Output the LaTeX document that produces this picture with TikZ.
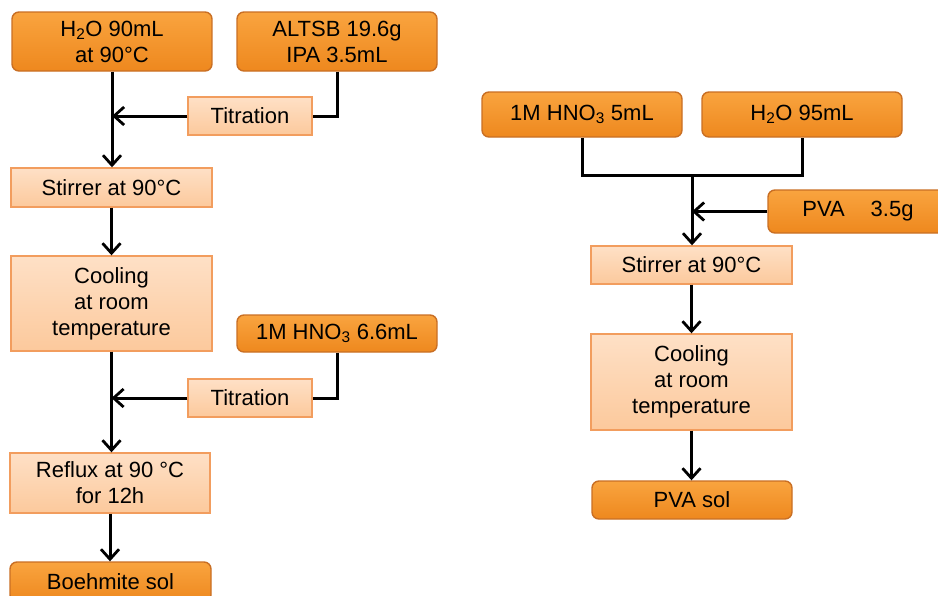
\documentclass[tikz,border=0pt]{standalone}
\usepackage{fontspec}
\setmainfont{Liberation Sans}
\usepackage{tikz}
\usetikzlibrary{positioning, arrows.meta, calc}
\definecolor{rawTop}{HTML}{F9A43F}
\definecolor{rawBot}{HTML}{EE881E}
\definecolor{rawLine}{HTML}{C96F24}
\definecolor{procTop}{HTML}{FEE0C6}
\definecolor{procBot}{HTML}{FCC99C}
\definecolor{procLine}{HTML}{F29D5E}
\tikzset{
  rawbox/.style={draw=rawLine, line width=1.4pt, rounded corners=7pt, top color=rawTop, bottom color=rawBot,
    align=center, inner sep=0pt, font=\fontsize{22}{26}\selectfont},
  procbox/.style={draw=procLine, line width=1.4pt, top color=procTop, bottom color=procBot,
    align=center, inner sep=0pt, font=\fontsize{22}{26}\selectfont},
  flow/.style={line width=3pt, -{Straight Barb[length=10pt, width=18pt, line width=2.8pt]}},
  link/.style={line width=3pt}
}

\begin{document}
\begin{tikzpicture}[x=1pt, y=-1pt]
  \useasboundingbox (0,0) rectangle (938,595);
  % Boehmite sol
  \node[rawbox, minimum width=200pt, minimum height=59pt] (h2oA) at (112,41.5) {H\textsubscript{2}O 90mL\\at 90°C};
  \node[rawbox, minimum width=200pt, minimum height=59pt] (altsb) at (337,41.5) {ALTSB 19.6g\\IPA 3.5mL};
  \node[procbox, minimum width=124pt, minimum height=38pt] (titA) at (250,116) {Titration};
  \node[procbox, minimum width=201pt, minimum height=39pt] (stirA) at (111.5,187.5) {Stirrer at 90°C};
  \node[procbox, minimum width=201pt, minimum height=95pt] (coolA) at (111.5,303.5) {Cooling\\at room\\temperature};
  \node[rawbox, minimum width=200pt, minimum height=37pt] (hnoA) at (337,333.5) {1M HNO\textsubscript{3} 6.6mL};
  \node[procbox, minimum width=124pt, minimum height=38pt] (titB) at (250,398) {Titration};
  \node[procbox, minimum width=200pt, minimum height=60pt] (reflux) at (110,483) {Reflux at 90 °C\\for 12h};
  \node[rawbox, minimum width=201pt, minimum height=40pt] (boehm) at (110.5,582) {Boehmite sol};

  \draw[flow] (h2oA.south) -- (h2oA.south |- stirA.north);
  \draw[flow] (titA.west) -- (h2oA.south |- titA.west);
  \draw[link] (altsb.south) |- (titA.east);
  \draw[flow] (stirA.south) -- (stirA.south |- coolA.north);
  \draw[flow] (coolA.south) -- (coolA.south |- reflux.north);
  \draw[flow] (titB.west) -- (coolA.south |- titB.west);
  \draw[link] (hnoA.south) |- (titB.east);
  \draw[flow] (reflux.south) -- (reflux.south |- boehm.north);

  % PVA sol
  \node[rawbox, minimum width=200pt, minimum height=45pt] (hnoB) at (582,114.5) {1M HNO\textsubscript{3} 5mL};
  \node[rawbox, minimum width=200pt, minimum height=45pt] (h2oB) at (802,114.5) {H\textsubscript{2}O 95mL};
  \coordinate (join) at (692,175);
  \node[rawbox, minimum width=180pt, minimum height=43pt] (pva) at (858,211.5) {PVA\hspace{0.9em} 3.5g};
  \node[procbox, minimum width=201pt, minimum height=38pt] (stirB) at (691.5,265) {Stirrer at 90°C};
  \node[procbox, minimum width=201pt, minimum height=96pt] (coolB) at (691.5,382) {Cooling\\at room\\temperature};
  \node[rawbox, minimum width=200pt, minimum height=38pt] (pvasol) at (692,500) {PVA sol};

  \draw[link] (hnoB.south) |- (join) -| (h2oB.south);
  \draw[flow] (join) -- (join |- stirB.north);
  \draw[flow] (pva.west) -- (join |- pva.west);
  \draw[flow] (stirB.south) -- (stirB.south |- coolB.north);
  \draw[flow] (coolB.south) -- (coolB.south |- pvasol.north);
\end{tikzpicture}
\end{document}
